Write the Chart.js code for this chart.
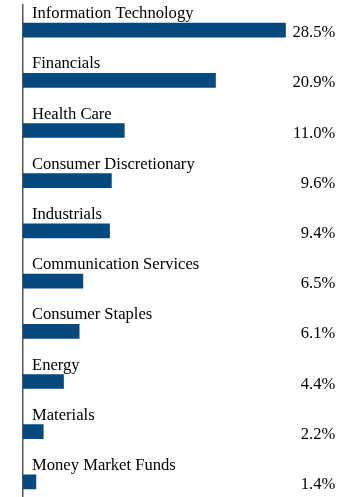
<!DOCTYPE html>
<html>
<head>
<meta charset="utf-8">
<script src="https://cdn.jsdelivr.net/npm/chart.js@4/dist/chart.umd.min.js"></script>
<style>
  html, body { margin: 0; padding: 0; background: #fff; overflow: hidden; }
  #wrap { position: relative; width: 360px; height: 507px; }
</style>
</head>
<body>
<div id="wrap"><canvas id="c"></canvas></div>
<script>
const categories = [
  "Information Technology",
  "Financials",
  "Health Care",
  "Consumer Discretionary",
  "Industrials",
  "Communication Services",
  "Consumer Staples",
  "Energy",
  "Materials",
  "Money Market Funds"
];
const values = [28.5, 20.9, 11.0, 9.6, 9.4, 6.5, 6.1, 4.4, 2.2, 1.4];
const valueLabels = ["28.5%", "20.9%", "11.0%", "9.6%", "9.4%", "6.5%", "6.1%", "4.4%", "2.2%", "1.4%"];

const FONT = "16.6px 'Liberation Serif', 'Times New Roman', serif";

const labelPlugin = {
  id: 'rowLabels',
  afterDatasetsDraw(chart) {
    const ctx = chart.ctx;
    const meta = chart.getDatasetMeta(0);
    const area = chart.chartArea;
    ctx.save();
    ctx.font = FONT;
    ctx.fillStyle = '#000';
    ctx.textBaseline = 'alphabetic';
    meta.data.forEach((bar, i) => {
      const y = bar.y;
      ctx.textAlign = 'left';
      ctx.fillText(categories[i], area.left + 9, y - 12);
      ctx.textAlign = 'right';
      ctx.fillText(valueLabels[i], area.right + 36, y + 7);
    });
    ctx.restore();
  }
};

new Chart(document.getElementById('c'), {
  type: 'bar',
  data: {
    labels: categories,
    datasets: [{
      data: values,
      backgroundColor: '#05497f',
      borderWidth: 0,
      barThickness: 14
    }]
  },
  options: {
    indexAxis: 'y',
    responsive: true,
    maintainAspectRatio: false,
    animation: false,
    layout: { padding: { left: 23, right: 60.7, top: 5, bottom: 0 } },
    plugins: { legend: { display: false }, tooltip: { enabled: false } },
    scales: {
      x: {
        display: false,
        min: 0,
        max: 30
      },
      y: {
        display: true,
        ticks: { display: false },
        grid: { display: false, drawTicks: false },
        border: { display: true, color: '#555', width: 1.5 }
      }
    }
  },
  plugins: [labelPlugin]
});
</script>
</body>
</html>
